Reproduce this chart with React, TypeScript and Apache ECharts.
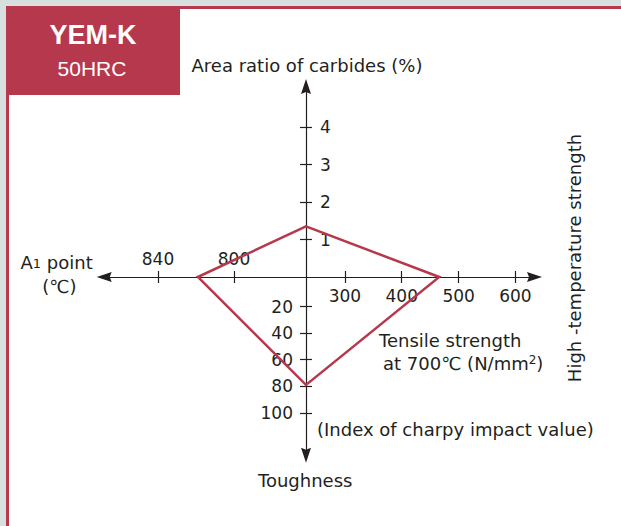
import React, { useEffect, useRef } from 'react';
import * as echarts from 'echarts';

// ---- Texts ----
const titleMain = 'YEM-K';
const titleSub = '50HRC';

// ---- Tick labels for each half-axis ----
const carbideTicks = [1, 2, 3, 4];
const tensileTicks = [300, 400, 500, 600];
const toughnessTicks = [20, 40, 60, 80, 100];
const a1Ticks = [800, 840];

// ---- Values of the steel (one per indicator) ----
const indicators = ['Area ratio of carbides', 'Tensile strength', 'Toughness', 'A1 point'];
const steelValues = [1.35, 466, 79, 819];

// ---- Axis ranges: [value at origin, value at arrow] ----
const carbideRange = [0, 5.08];
const tensileRange = [231.6, 633.5];
const toughnessRange = [-2.4, 132];
const a1Range = [762.1, 868.3];

const AX = '#231f20';
const RED = '#b6384d';
const GRAY = '#d8e0df';
const ARROW = 'path://M5,0L10,15L5,13L0,15Z';
const FONT = '"DejaVu Sans"';

const lineStyle = { color: AX, width: 1.2 };
const labelStyle = { color: AX, fontSize: 17, fontFamily: 'DejaVu Sans' };

function hidden(gridIndex: number) {
  return { type: 'value', gridIndex, min: 0, max: 1, show: false };
}

function mainAxis(gridIndex: number, range: number[], ticks: number[], position: string, symbol: string[], margin: number, inverse = false) {
  return {
    type: 'value',
    gridIndex,
    position,
    inverse,
    min: range[0],
    max: range[1],
    splitLine: { show: false },
    axisLine: { show: true, onZero: false, symbol, symbolSize: [10, 15], lineStyle },
    axisTick: { show: true, inside: false, length: 6, customValues: ticks, lineStyle },
    axisLabel: { show: true, customValues: ticks, margin, ...labelStyle },
  };
}

function tickAxis(gridIndex: number, range: number[], ticks: number[], position: string, inverse = false) {
  return {
    type: 'value',
    gridIndex,
    position,
    inverse,
    min: range[0],
    max: range[1],
    splitLine: { show: false },
    axisLine: { show: false, onZero: false },
    axisTick: { show: true, inside: false, length: 6, customValues: ticks, lineStyle },
    axisLabel: { show: false },
  };
}

const OX = 306;
const OY = 277;

export default function App() {
  const ref = useRef<HTMLDivElement>(null);
  useEffect(() => {
    if (!ref.current) return;
    const chart = echarts.init(ref.current, undefined, { renderer: 'svg' });
    const grid = [
      { left: OX, top: 86.5, width: 0, height: OY - 86.5, outerBoundsMode: 'none' },
      { left: OX, top: OY, width: 534.5 - OX, height: 0, outerBoundsMode: 'none' },
      { left: OX, top: OY, width: 0, height: 455.2 - OY, outerBoundsMode: 'none' },
      { left: 104.2, top: OY, width: OX - 104.2, height: 0, outerBoundsMode: 'none' },
    ];
    chart.setOption({
      animation: false,
      backgroundColor: GRAY,
      grid,
      xAxis: [
        hidden(0),
        mainAxis(1, tensileRange, tensileTicks, 'bottom', ['none', ARROW], 10),
        tickAxis(1, tensileRange, tensileTicks, 'top'),
        hidden(2),
        mainAxis(3, a1Range, a1Ticks, 'top', [ARROW, 'none'], 10, true),
        tickAxis(3, a1Range, a1Ticks, 'bottom', true),
      ],
      yAxis: [
        mainAxis(0, carbideRange, carbideTicks, 'right', ['none', ARROW], 14),
        tickAxis(0, carbideRange, carbideTicks, 'left'),
        hidden(1),
        mainAxis(2, toughnessRange, toughnessTicks, 'left', [ARROW, 'none'], 13, true),
        tickAxis(2, toughnessRange, toughnessTicks, 'right', true),
        hidden(3),
      ],
      series: [],
    });

    const pTop = chart.convertToPixel({ gridIndex: 0 }, [0, steelValues[0]]) as number[];
    const pRight = chart.convertToPixel({ gridIndex: 1 }, [steelValues[1], 0]) as number[];
    const pBottom = chart.convertToPixel({ gridIndex: 2 }, [0, steelValues[2]]) as number[];
    const pLeft = chart.convertToPixel({ gridIndex: 3 }, [steelValues[3], 0]) as number[];

    const txt = (text: string, x: number, y: number, extra: any = {}) => ({
      type: 'text',
      x,
      y,
      z: 20,
      style: {
        text,
        fill: AX,
        font: `18px ${FONT}`,
        textAlign: 'left',
        textVerticalAlign: 'middle',
        ...extra,
      },
    });

    chart.setOption({
      graphic: [
        { type: 'rect', z: -100, shape: { x: 6, y: 6, width: 615, height: 520 }, style: { fill: RED } },
        { type: 'rect', z: -99, shape: { x: 9, y: 9, width: 612, height: 517 }, style: { fill: '#ffffff' } },
        { type: 'rect', z: -98, shape: { x: 6, y: 6, width: 174, height: 89 }, style: { fill: RED } },
        {
          type: 'text', x: 93, y: 35, z: 20,
          style: { text: titleMain, fill: '#ffffff', font: `bold 27px "Liberation Sans"`, textAlign: 'center', textVerticalAlign: 'middle' },
        },
        {
          type: 'text', x: 92, y: 68, z: 20,
          style: { text: titleSub, fill: '#ffffff', font: `21px "Liberation Sans"`, textAlign: 'center', textVerticalAlign: 'middle' },
        },
        txt('Area ratio of carbides (%)', 191.5, 65),
        txt('{a|A}{s|1}{a| point}', 20.5, 262, {
          rich: {
            a: { font: `18px ${FONT}`, fill: AX, verticalAlign: 'bottom', textVerticalAlign: 'bottom' },
            s: { font: `13px ${FONT}`, fill: AX, verticalAlign: 'bottom', textVerticalAlign: 'bottom', padding: [0, 0, 1, 0] },
          },
        }),
        txt('(℃)', 59.3, 286, { textAlign: 'center' }),
        txt('Tensile strength', 379, 340),
        txt('{a|at 700℃ (N/mm}{p|2}{a|)}', 383, 363, {
          rich: {
            a: { font: `18px ${FONT}`, fill: AX, verticalAlign: 'bottom', textVerticalAlign: 'bottom' },
            p: { font: `12px ${FONT}`, fill: AX, verticalAlign: 'top', textVerticalAlign: 'top' },
          },
        }),
        txt('(Index of charpy impact value)', 317, 429),
        txt('Toughness', 258, 480),
        {
          type: 'text', x: 574, y: 258, z: 20, rotation: Math.PI / 2,
          style: { text: 'High -temperature strength', fill: AX, font: `18px ${FONT}`, textAlign: 'center', textVerticalAlign: 'middle' },
        },
        {
          type: 'polygon',
          z: 50,
          shape: { points: [pTop, pRight, pBottom, pLeft] },
          style: { fill: 'none', stroke: RED, lineWidth: 2.5, lineJoin: 'miter' },
        },
      ],
    });
    return () => chart.dispose();
  }, []);
  return (
    <div
      ref={ref}
      data-indicators={indicators.join(',')}
      style={{ position: 'absolute', left: 0, top: 0, width: 621, height: 526 }}
    />
  );
}
